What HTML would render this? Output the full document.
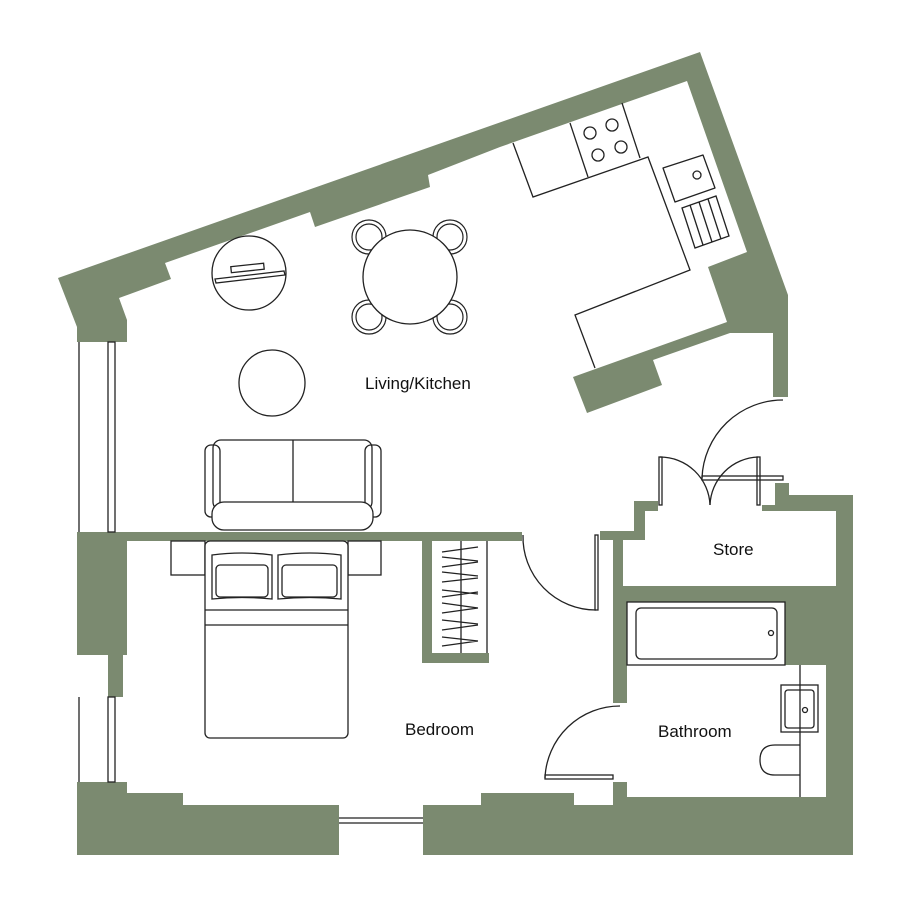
<!DOCTYPE html>
<html><head><meta charset="utf-8"><style>
html,body{margin:0;padding:0;background:#fff}
svg{display:block}
text{font-family:"Liberation Sans",sans-serif;font-size:17px;fill:#111}
</style></head><body>
<svg width="912" height="906" viewBox="0 0 912 906" xmlns="http://www.w3.org/2000/svg">
<g fill="#7b8a70" stroke="none">
<polygon points="58,278 700,52 788,295 788,397 773,397 773,333 730,333 653,360 662,385 587,413 573,377 727,322 708,267 747,252 687,81 500,147 428,175 430,187 315,227 310,212 165,263 171,279 119,298 127,320 127,342 77,342 77,327"/>
<rect x="77" y="532" width="445" height="9"/>
<rect x="77" y="532" width="50" height="123"/>
<rect x="108" y="655" width="15" height="42"/>
<polygon points="77,782 127,782 127,793 183,793 183,805 339,805 339,855 77,855"/>
<polygon points="423,805 481,805 481,793 574,793 574,805 613,805 613,782 627,782 627,797 826,797 826,586 836,586 836,511 762,511 762,505 775,505 775,483 789,483 789,495 853,495 853,855 423,855"/>
<polygon points="600,531 634,531 634,501 658,501 658,511 645,511 645,540 623,540 623,586 613,586 613,540 600,540"/>
<rect x="613" y="586" width="223" height="16"/>
<rect x="785" y="602" width="51" height="63"/>
<rect x="613" y="586" width="14" height="117"/>
<rect x="422" y="541" width="10" height="122"/>
<rect x="422" y="653" width="67" height="10"/>
</g>
<g fill="none" stroke="#222" stroke-width="1.3">
<line x1="79" y1="342" x2="79" y2="532"/>
<rect x="108" y="342" width="7" height="190"/>
<line x1="79" y1="697" x2="79" y2="782"/>
<rect x="108" y="697" width="7" height="85"/>
<line x1="339" y1="818" x2="423" y2="818"/><line x1="339" y1="823" x2="423" y2="823"/>
<path d="M513,143 L533,197 L648,157 L690,270 L575,315 L595,368"/>
<line x1="570" y1="123" x2="588" y2="177"/>
<line x1="622" y1="103" x2="640" y2="158"/>
<circle cx="590" cy="133" r="6"/><circle cx="612" cy="125" r="6"/>
<circle cx="598" cy="155" r="6"/><circle cx="621" cy="147" r="6"/>
<polygon points="663,168 703,155 715,188 675,202" stroke-linejoin="round"/>
<circle cx="697" cy="175" r="4"/>
<polygon points="682,208 716,196 729,236 695,248"/>
<line x1="690" y1="205" x2="703" y2="245"/><line x1="699" y1="202" x2="712" y2="242"/><line x1="708" y1="199" x2="721" y2="239"/>
<g stroke-width="1.2">
<circle cx="369" cy="237" r="17"/><circle cx="369" cy="237" r="13"/>
<circle cx="450" cy="237" r="17"/><circle cx="450" cy="237" r="13"/>
<circle cx="369" cy="317" r="17"/><circle cx="369" cy="317" r="13"/>
<circle cx="450" cy="317" r="17"/><circle cx="450" cy="317" r="13"/>
</g>
<circle cx="410" cy="277" r="47" fill="#fff"/>
<circle cx="249" cy="273" r="37"/>
<polygon points="215,279 284,271 285,275 216,283"/>
<rect x="231" y="265" width="33" height="6" transform="rotate(-6 247 268)"/>
<circle cx="272" cy="383" r="33"/>
<rect x="205" y="445" width="15" height="72" rx="6"/>
<rect x="365" y="445" width="16" height="72" rx="6"/>
<rect x="213" y="440" width="159" height="70" rx="8"/>
<line x1="293" y1="440" x2="293" y2="502"/>
<rect x="212" y="502" width="161" height="28" rx="12" fill="#fff"/>
<rect x="171" y="541" width="34" height="34"/>
<rect x="348" y="541" width="33" height="34"/>
<rect x="205" y="541" width="143" height="197" rx="5" fill="#fff"/>
<line x1="205" y1="610" x2="348" y2="610"/><line x1="205" y1="625" x2="348" y2="625"/>
<path d="M212 555 Q242 551 272 555 L272 599 Q242 596 212 599 Z"/>
<rect x="216" y="565" width="52" height="32" rx="4"/>
<path d="M278 555 Q310 551 341 555 L341 599 Q310 596 278 599 Z"/>
<rect x="282" y="565" width="55" height="32" rx="4"/>
<line x1="487" y1="541" x2="487" y2="653"/>
<line x1="461" y1="541" x2="461" y2="653"/>
<path d="M442 552 L478 547 M442 557 L478 561 M442 567 L478 562 M442 572 L478 576 M442 582 L478 578 M442 590 L478 594 M442 597 L478 592 M442 603 L478 608 M442 613 L478 608 M442 620 L478 624 M442 630 L478 625 M442 637 L478 641 M442 646 L478 641"/>
<path d="M523 535 A73 73 0 0 0 596 610"/>
<rect x="595" y="535" width="3" height="75"/>
<path d="M783 400 A81 81 0 0 0 702 478"/>
<rect x="702" y="476" width="81" height="4"/>
<rect x="659" y="457" width="3" height="48"/>
<rect x="757" y="457" width="3" height="48"/>
<path d="M660 457 A50 50 0 0 1 710 505"/>
<path d="M758 457 A50 50 0 0 0 710 505"/>
<path d="M620 706 A75 75 0 0 0 545 778"/>
<rect x="545" y="775" width="68" height="4"/>
<rect x="627" y="602" width="158" height="63"/>
<rect x="636" y="608" width="141" height="51" rx="5"/>
<circle cx="771" cy="633" r="2.5"/>
<line x1="800" y1="665" x2="800" y2="797"/>
<rect x="781" y="685" width="37" height="47"/>
<rect x="785" y="690" width="29" height="38" rx="3"/>
<circle cx="805" cy="710" r="2.5"/>
<path d="M800 745 L775 745 Q760 745 760 760 Q760 775 775 775 L800 775"/>
</g>
<text x="365" y="389">Living/Kitchen</text>
<text x="405" y="735">Bedroom</text>
<text x="658" y="737">Bathroom</text>
<text x="713" y="555">Store</text>
</svg>
</body></html>
